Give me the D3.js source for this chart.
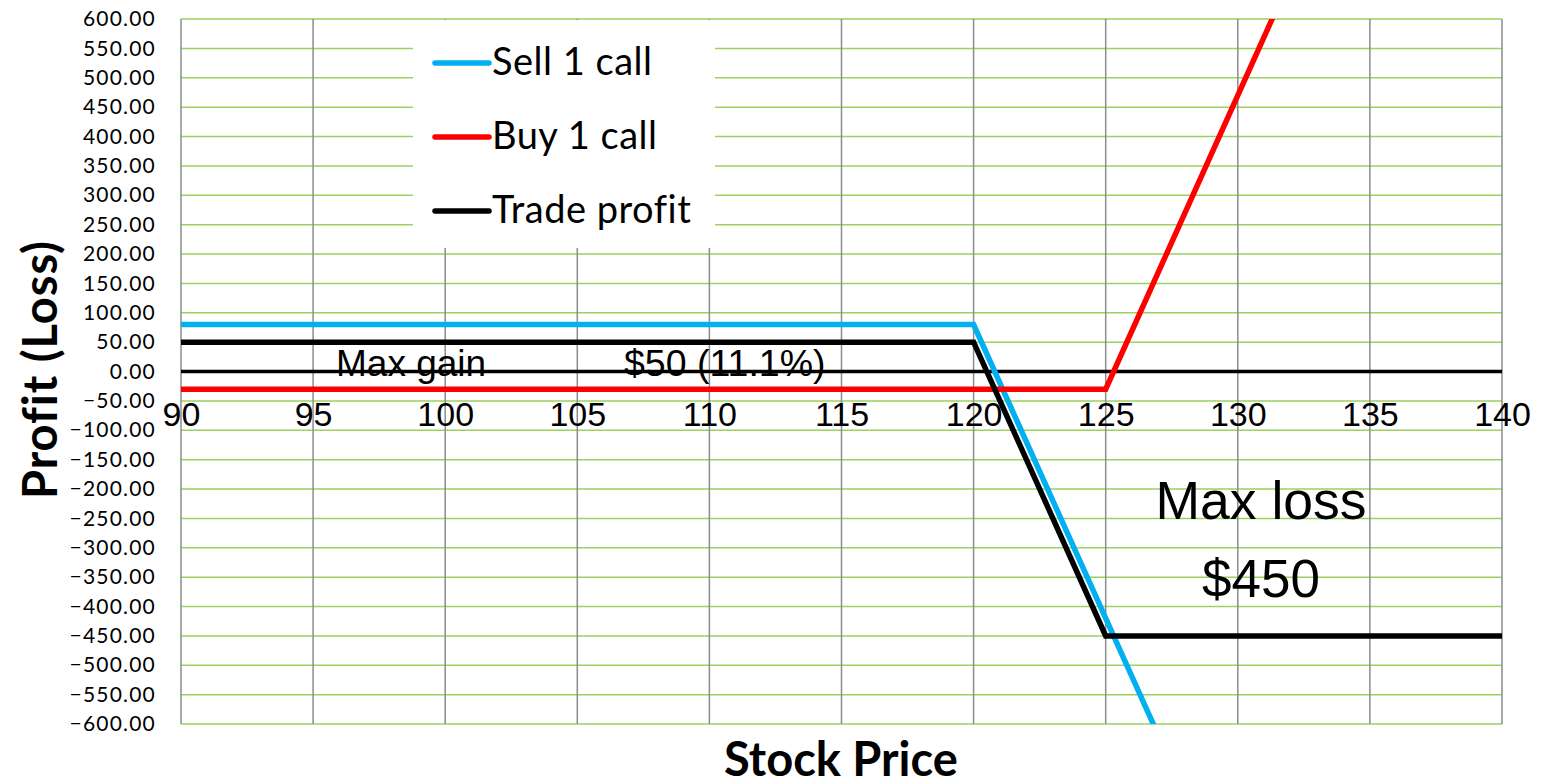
<!DOCTYPE html>
<html>
<head>
<meta charset="utf-8">
<script src="https://cdn.jsdelivr.net/npm/d3@7"></script>
<style>
  body { margin: 0; background: #fff; }
  svg { display: block; }
</style>
</head>
<body>
<svg id="chart" width="1543" height="783"></svg>
<script>
// stock prices at the break points of each payoff
var sellCallX = [90, 120, 140];
var sellCallY = [80, 80, -1920];
var buyCallX = [90, 125, 140];
var buyCallY = [-30, -30, 1470];
var tradeX = [90, 120, 125, 140];
var tradeY = [50, 50, -450, -450];

var xTicks = [90, 95, 100, 105, 110, 115, 120, 125, 130, 135, 140];
var yTicks = d3.range(-600, 601, 50);

var seriesNames = ['Sell 1 call', 'Buy 1 call', 'Trade profit'];
var seriesColors = ['#00b0f0', '#ff0000', '#000000'];

var margin = {left: 181, right: 41, top: 19, bottom: 59};
var width = 1543, height = 783;

var svg = d3.select('#chart');

var x = d3.scaleLinear().domain([90, 140]).range([margin.left, width - margin.right]);
var y = d3.scaleLinear().domain([-600, 600]).range([height - margin.bottom, margin.top]);

svg.append('defs').append('clipPath').attr('id', 'plot')
    .append('rect')
    .attr('x', x(90)).attr('y', y(600))
    .attr('width', x(140) - x(90)).attr('height', y(-600) - y(600));

// horizontal gridlines (green)
svg.append('g')
    .selectAll('line')
    .data(yTicks)
    .join('line')
    .attr('x1', x(90)).attr('x2', x(140))
    .attr('y1', d => y(d)).attr('y2', d => y(d))
    .attr('stroke', '#9bd15f')
    .attr('stroke-width', 1.5);

// vertical gridlines (grey)
svg.append('g')
    .selectAll('line')
    .data(xTicks)
    .join('line')
    .attr('x1', d => x(d)).attr('x2', d => x(d))
    .attr('y1', y(600)).attr('y2', y(-600))
    .attr('stroke', '#8c8c8c')
    .attr('stroke-width', 1.5);

// y axis labels
var yAxis = d3.axisLeft(y).tickValues(yTicks).tickSize(0).tickPadding(8)
    .tickFormat(d3.format('.2f'));
svg.append('g')
    .attr('transform', 'translate(' + (x(90) - 17) + ',0)')
    .call(yAxis)
    .call(g => g.select('.domain').remove())
    .selectAll('text')
    .attr('font-family', 'Lato, sans-serif')
    .attr('font-size', 21)
    .attr('letter-spacing', 1.2)
    .attr('fill', '#000');

// zero line
svg.append('line')
    .attr('x1', x(90)).attr('x2', x(140))
    .attr('y1', y(0)).attr('y2', y(0))
    .attr('stroke', '#000')
    .attr('stroke-width', 3.5);

// x axis labels, sit just under the zero line
var xAxis = d3.axisBottom(x).tickValues(xTicks).tickSize(0).tickPadding(0);
svg.append('g')
    .attr('transform', 'translate(0,' + (y(0) + 30) + ')')
    .call(xAxis)
    .call(g => g.select('.domain').remove())
    .selectAll('text')
    .attr('font-family', '"Liberation Sans Narrow", "Liberation Sans", sans-serif')
    .attr('font-size', 34)
    .attr('fill', '#000');

// legend box (covers gridlines)
var legend = svg.append('g');
legend.append('rect')
    .attr('x', 413).attr('y', 20)
    .attr('width', 302).attr('height', 228)
    .attr('fill', '#fff');

// series
var line = d3.line().x(d => x(d[0])).y(d => y(d[1]));
var seriesData = [
    d3.zip(sellCallX, sellCallY),
    d3.zip(buyCallX, buyCallY),
    d3.zip(tradeX, tradeY)
];

svg.append('g')
    .attr('clip-path', 'url(#plot)')
    .selectAll('path')
    .data(seriesData)
    .join('path')
    .attr('d', line)
    .attr('fill', 'none')
    .attr('stroke', (d, i) => seriesColors[i])
    .attr('stroke-width', 5.5)
    .attr('stroke-linejoin', 'miter');

// legend entries
var entries = legend.selectAll('g.entry')
    .data(seriesNames)
    .join('g')
    .attr('class', 'entry')
    .attr('transform', (d, i) => 'translate(0,' + (63 + i * 74) + ')');
entries.append('line')
    .attr('x1', 435).attr('x2', 489)
    .attr('stroke', (d, i) => seriesColors[i])
    .attr('stroke-width', 5.5)
    .attr('stroke-linecap', 'round');
entries.append('text')
    .attr('x', 492).attr('y', 12)
    .attr('font-family', 'Lato, sans-serif')
    .attr('font-size', 38)
    .attr('letter-spacing', 0.5)
    .text(d => d);

// annotations
var narrow = '"Liberation Sans Narrow", "Liberation Sans", sans-serif';
svg.append('text').attr('x', 336).attr('y', 376)
    .attr('font-family', narrow).attr('font-size', 37).text('Max gain');
svg.append('text').attr('x', 624).attr('y', 376)
    .attr('font-family', narrow).attr('font-size', 37.5).text('$50 (11.1%)');
svg.append('text').attr('x', 1261).attr('y', 519).attr('text-anchor', 'middle')
    .attr('font-family', narrow).attr('font-size', 53.5).text('Max loss');
svg.append('text').attr('x', 1261).attr('y', 597).attr('text-anchor', 'middle')
    .attr('font-family', narrow).attr('font-size', 53).text('$450');

// axis titles
svg.append('text')
    .attr('transform', 'translate(57,' + (y(0) - 2) + ') rotate(-90)')
    .attr('text-anchor', 'middle')
    .attr('font-family', 'Lato, sans-serif')
    .attr('font-weight', 'bold')
    .attr('font-size', 47)
    .attr('letter-spacing', 1)
    .text('Profit (Loss)');
svg.append('text')
    .attr('x', 841).attr('y', 776)
    .attr('text-anchor', 'middle')
    .attr('font-family', 'Lato, sans-serif')
    .attr('font-weight', 'bold')
    .attr('font-size', 47)
    .text('Stock Price');
</script>
</body>
</html>
